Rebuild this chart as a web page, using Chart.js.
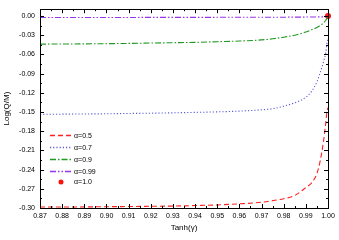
<!DOCTYPE html>
<html>
<head>
<meta charset="utf-8">
<script src="https://cdn.jsdelivr.net/npm/chart.js@4/dist/chart.umd.min.js"></script>
<style>
  html, body { margin: 0; padding: 0; background: #fff; }
  #wrap { width: 339px; height: 240px; }
</style>
</head>
<body>
<div id="wrap"><canvas id="main"></canvas></div>
<script>
// tanh(gamma) sample points
const tanhG = [0.87, 0.88, 0.89, 0.90, 0.91, 0.92, 0.93, 0.94, 0.95, 0.96, 0.97, 0.975, 0.98, 0.985, 0.99, 0.9925, 0.995, 0.9965, 0.998, 0.999, 0.9995, 1.0];

const alpha05 = [-0.2985, -0.2985, -0.2983, -0.298, -0.2977, -0.2973, -0.297, -0.2962, -0.2952, -0.2935, -0.291, -0.2885, -0.2855, -0.2805, -0.268, -0.261, -0.246, -0.226, -0.195, -0.1665, -0.150, -0.143];
const alpha07 = [-0.1536, -0.1533, -0.153, -0.1527, -0.1522, -0.1518, -0.1512, -0.1505, -0.1497, -0.1485, -0.1465, -0.1448, -0.1408, -0.1355, -0.127, -0.118, -0.103, -0.088, -0.071, -0.057, -0.044, -0.034];
const alpha09 = [-0.0438, -0.0436, -0.0434, -0.0431, -0.0427, -0.0421, -0.0416, -0.041, -0.040, -0.039, -0.0372, -0.0355, -0.033, -0.0298, -0.025, -0.0215, -0.0178, -0.0145, -0.0105, -0.0065, -0.0035, -0.0005];
const alpha099 = [-0.0022, -0.0022, -0.0021, -0.0021, -0.0021, -0.002, -0.002, -0.002, -0.0019, -0.0019, -0.0018, -0.0018, -0.0017, -0.0016, -0.0015, -0.0014, -0.0013, -0.0012, -0.0011, -0.0009, -0.0006, 0.0];
const alpha10 = [{ x: 1.0, y: 0.0 }];

const seriesNames = ['\u03b1=0.5', '\u03b1=0.7', '\u03b1=0.9', '\u03b1=0.99', '\u03b1=1.0'];

const xLabels = [0.87, 0.88, 0.89, 0.90, 0.91, 0.92, 0.93, 0.94, 0.95, 0.96, 0.97, 0.98, 0.99, 1.00];
const yLabels = [0.00, -0.03, -0.06, -0.09, -0.12, -0.15, -0.18, -0.21, -0.24, -0.27, -0.30];

const styles = [
  { color: '#ff2020', dash: [5, 3] },
  { color: '#5a5ad8', dash: [1.2, 2] },
  { color: '#229922', dash: [6, 2, 1.5, 2] },
  { color: '#9933ee', dash: [6, 2, 1.5, 2, 1.5, 2] },
  { color: '#ff1010', dot: true }
];

const pts = (ys) => tanhG.map((x, i) => ({ x: x, y: ys[i] }));

const FONT = 'Arial, "Liberation Sans", sans-serif';

// inward ticks on all four sides + frame
const frameTicks = {
  id: 'frameTicks',
  afterDatasetsDraw(chart) {
    const { ctx, chartArea: a, scales: { x, y } } = chart;
    ctx.save();
    ctx.strokeStyle = '#000';
    ctx.lineWidth = 1;
    ctx.beginPath();
    for (let k = 0; k <= 26; k++) {
      const v = 0.87 + k * 0.005;
      const px = Math.round(x.getPixelForValue(v)) + 0.5;
      const len = k % 2 === 0 ? 4 : 2;
      ctx.moveTo(px, a.bottom); ctx.lineTo(px, a.bottom - len);
      ctx.moveTo(px, a.top); ctx.lineTo(px, a.top + len);
    }
    for (let k = 0; k <= 20; k++) {
      const v = -0.30 + k * 0.015;
      const py = Math.round(y.getPixelForValue(v)) + 0.5;
      const len = k % 2 === 0 ? 4 : 2;
      ctx.moveTo(a.left, py); ctx.lineTo(a.left + len, py);
      ctx.moveTo(a.right, py); ctx.lineTo(a.right - len, py);
    }
    ctx.stroke();
    ctx.strokeRect(Math.round(a.left) + 0.5, Math.round(a.top) + 0.5, Math.round(a.right - a.left), Math.round(a.bottom - a.top));
    ctx.restore();
  }
};

// legend drawn inside the plot, lower left
const innerLegend = {
  id: 'innerLegend',
  afterDraw(chart) {
    const ctx = chart.ctx;
    const rows = [135.5, 147.5, 159.5, 171.5, 182];
    styles.forEach((st, i) => {
      const yy = rows[i];
      ctx.save();
      ctx.globalAlpha = 1;
      if (st.dot) {
        ctx.fillStyle = st.color;
        ctx.beginPath();
        ctx.arc(61, yy, 2.5, 0, Math.PI * 2);
        ctx.fill();
      } else {
        ctx.strokeStyle = st.color;
        ctx.lineWidth = 1.3;
        ctx.setLineDash(st.dash);
        ctx.beginPath();
        ctx.moveTo(50, yy);
        ctx.lineTo(72, yy);
        ctx.stroke();
      }
      ctx.restore();
      ctx.save();
      ctx.font = '7px ' + FONT;
      ctx.textBaseline = 'middle';
      ctx.fillStyle = '#000';
      ctx.fillText(seriesNames[i], 74, yy + 0.5);
      ctx.restore();
    });
  }
};

const lineSet = (i, data) => ({
  label: seriesNames[i],
  data: pts(data),
  borderColor: styles[i].color,
  backgroundColor: styles[i].color,
  borderWidth: 1.1,
  borderDash: styles[i].dash,
  pointRadius: 0,
  cubicInterpolationMode: 'monotone',
  fill: false
});

new Chart(document.getElementById('main'), {
  type: 'line',
  data: {
    datasets: [
      lineSet(0, alpha05),
      lineSet(1, alpha07),
      lineSet(2, alpha09),
      lineSet(3, alpha099),
      {
        label: seriesNames[4],
        data: alpha10,
        showLine: false,
        pointRadius: 3,
        pointBorderWidth: 0,
        backgroundColor: styles[4].color,
        borderColor: styles[4].color,
        clip: false
      }
    ]
  },
  options: {
    responsive: true,
    maintainAspectRatio: false,
    animation: false,
    layout: { padding: { top: 7, right: 11, left: 0, bottom: 0 } },
    plugins: { legend: { display: false }, tooltip: { enabled: false } },
    scales: {
      x: {
        type: 'linear',
        min: 0.87,
        max: 1.0,
        afterFit: (s) => { s.height = 32; },
        afterBuildTicks: (s) => { s.ticks = xLabels.map(v => ({ value: v })); },
        grid: { display: false, drawTicks: false },
        border: { display: false },
        ticks: {
          padding: 4,
          maxRotation: 0,
          autoSkip: false,
          color: '#000',
          font: { family: FONT, size: 7 },
          callback: (v) => v.toFixed(2)
        },
        title: {
          display: true,
          text: 'Tanh(\u03b3)',
          color: '#000',
          font: { family: FONT, size: 8 },
          padding: { top: 3, bottom: 7 }
        }
      },
      y: {
        min: -0.30,
        max: 0.0108,
        afterFit: (s) => { s.width = 40; },
        afterBuildTicks: (s) => { s.ticks = yLabels.map(v => ({ value: v })); },
        grid: { display: false, drawTicks: false },
        border: { display: false },
        ticks: {
          padding: 5,
          autoSkip: false,
          color: '#000',
          font: { family: FONT, size: 7 },
          callback: (v) => v.toFixed(2)
        },
        title: {
          display: true,
          text: 'Log(Q/M)',
          color: '#000',
          font: { family: FONT, size: 8 },
          padding: { top: 2, bottom: 0 }
        }
      }
    }
  },
  plugins: [frameTicks, innerLegend]
});
</script>
</body>
</html>
